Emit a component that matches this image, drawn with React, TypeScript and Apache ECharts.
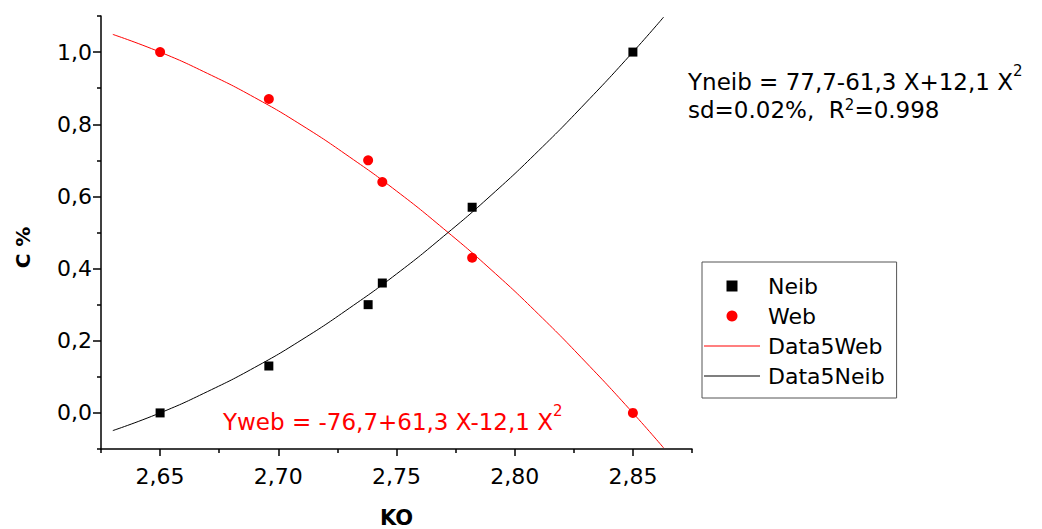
import React, { useEffect, useRef } from "react";
import * as echarts from "echarts";

const FONT = "DejaVu Sans";

// tick positions
const xTicksMajor = [2.65, 2.7, 2.75, 2.8, 2.85];
const xTicksMinor = [2.625, 2.675, 2.725, 2.775, 2.825, 2.875];
const yTicksMajor = [0, 0.2, 0.4, 0.6, 0.8, 1.0];
const yTicksMinor = [-0.1, 0.1, 0.3, 0.5, 0.7, 0.9, 1.1];

// measured points
const koPoints = [2.65, 2.696, 2.738, 2.744, 2.782, 2.85];
const neib = [0.0, 0.13, 0.3, 0.36, 0.57, 1.0];
const web = [1.0, 0.87, 0.7, 0.64, 0.43, 0.0];

// fitted curves
const fitKO = [2.63, 2.65, 2.67, 2.69, 2.71, 2.73, 2.75, 2.77, 2.79, 2.81, 2.83, 2.85, 2.863];
const fitWeb = [1.049, 1.0, 0.941, 0.874, 0.797, 0.71, 0.615, 0.51, 0.397, 0.274, 0.141, 0.0, -0.097];
const fitNeib = [-0.049, 0.0, 0.059, 0.126, 0.203, 0.29, 0.385, 0.49, 0.603, 0.726, 0.859, 1.0, 1.097];

const legendNames = ["Neib", "Web", "Data5Web", "Data5Neib"];

const richStyle = (color: string) => ({
  a: { fontFamily: FONT, fontSize: 23, lineHeight: 23, verticalAlign: "bottom", fill: color, color },
  b: { fontFamily: FONT, fontSize: 23, lineHeight: 28, verticalAlign: "bottom", fill: color, color },
  s: { fontFamily: FONT, fontSize: 15, lineHeight: 30, verticalAlign: "top", fill: color, color },
  t: { fontFamily: FONT, fontSize: 15, lineHeight: 15, verticalAlign: "top", padding: [3.5, 0, 0, 0], fill: color, color },
});

export default function App() {
  const ref = useRef<HTMLDivElement>(null);
  useEffect(() => {
    if (!ref.current) return;
    const chart = echarts.init(ref.current, undefined, { renderer: "svg" });
    const axisLineStyle = { color: "#000", width: 1.5 };
    const lineIcon = "path://M0,0H56V1H0Z";
    const option: any = {
      animation: false,
      backgroundColor: "#fff",
      grid: { left: 101, right: 350, top: 16, bottom: 80, outerBoundsMode: "none" },
      legend: {
        orient: "vertical",
        left: 702,
        top: 262,
        padding: [13, 12, 11, 2],
        itemGap: 8,
        itemWidth: 56,
        itemHeight: 11,
        symbolKeepAspect: true,
        borderColor: "#555",
        borderWidth: 1,
        textStyle: { fontFamily: FONT, fontSize: 22, color: "#000", lineHeight: 22, padding: [0, 0, 0, 3] },
        data: [
          { name: legendNames[0], icon: "path://M0,0H10V10H0Z", itemStyle: { color: "#000", opacity: 1 } },
          { name: legendNames[1], icon: "circle", itemStyle: { color: "#ff0000", opacity: 1 } },
          { name: legendNames[2], icon: lineIcon, itemStyle: { color: "#ff0000", opacity: 1 } },
          { name: legendNames[3], icon: lineIcon, itemStyle: { color: "#000", opacity: 1 } },
        ],
      },
      xAxis: [
        {
          type: "value",
          min: 2.625,
          max: 2.875,
          interval: 0.025,
          position: "bottom",
          axisLine: { onZero: false, lineStyle: axisLineStyle },
          axisTick: { customValues: xTicksMajor, length: 7, lineStyle: axisLineStyle },
          axisLabel: {
            customValues: xTicksMajor,
            formatter: (v: number) => v.toFixed(2).replace(".", ","),
            fontFamily: FONT,
            fontSize: 22,
            color: "#000",
            margin: 16,
          },
          splitLine: { show: false },
          name: "KO",
          nameLocation: "middle",
          nameGap: 59,
          nameTextStyle: { fontFamily: FONT, fontWeight: "bold", fontSize: 21, lineHeight: 20, color: "#000" },
        },
        {
          type: "value",
          min: 2.625,
          max: 2.875,
          interval: 0.025,
          position: "bottom",
          offset: 0,
          axisLine: { show: false, onZero: false },
          axisTick: { customValues: xTicksMinor, length: 4, lineStyle: axisLineStyle },
          axisLabel: { show: false },
          splitLine: { show: false },
        },
      ],
      yAxis: [
        {
          type: "value",
          min: -0.1,
          max: 1.1,
          interval: 0.1,
          position: "left",
          axisLine: { show: true, onZero: false, lineStyle: axisLineStyle },
          axisTick: { show: true, customValues: yTicksMajor, length: 8, lineStyle: axisLineStyle },
          axisLabel: {
            customValues: yTicksMajor,
            formatter: (v: number) => v.toFixed(1).replace(".", ","),
            fontFamily: FONT,
            fontSize: 22,
            color: "#000",
            margin: 9,
          },
          splitLine: { show: false },
          name: "C %",
          nameLocation: "middle",
          nameRotate: 90,
          nameGap: 68,
          nameTextStyle: { fontFamily: FONT, fontWeight: "bold", fontSize: 20, color: "#000", padding: [0, 30, 0, 0] },
        },
        {
          type: "value",
          min: -0.1,
          max: 1.1,
          interval: 0.1,
          position: "left",
          offset: 0,
          axisLine: { show: false, onZero: false },
          axisTick: { show: true, customValues: yTicksMinor, length: 4, lineStyle: axisLineStyle },
          axisLabel: { show: false },
          splitLine: { show: false },
        },
      ],
      series: [
        {
          name: "Neib",
          type: "scatter",
          symbol: "rect",
          symbolSize: 9,
          itemStyle: { color: "#000", opacity: 1 },
          data: koPoints.map((x, i) => [x, neib[i]]),
          z: 3,
        },
        {
          name: "Web",
          type: "scatter",
          symbol: "circle",
          symbolSize: 10,
          itemStyle: { color: "#ff0000", opacity: 1 },
          data: koPoints.map((x, i) => [x, web[i]]),
          z: 3,
        },
        {
          name: "Data5Web",
          type: "line",
          smooth: 0.5,
          symbol: "none",
          lineStyle: { color: "#ff0000", width: 1 },
          itemStyle: { color: "#ff0000" },
          data: fitKO.map((x, i) => [x, fitWeb[i]]),
          z: 2,
        },
        {
          name: "Data5Neib",
          type: "line",
          smooth: 0.5,
          symbol: "none",
          lineStyle: { color: "#000", width: 1 },
          itemStyle: { color: "#000" },
          data: fitKO.map((x, i) => [x, fitNeib[i]]),
          z: 2,
        },
      ],
      graphic: [
        {
          type: "text",
          x: 688,
          y: 63.5,
          style: {
            text: "{a|Yneib = 77,7-61,3 X+12,1 X}{s|2}\n{b|sd=0.02%,  R}{t|2}{b|=0.998}",
            rich: richStyle("#000"),
            fill: "#000",
          },
        },
        {
          type: "text",
          x: 223,
          y: 403.5,
          style: {
            text: "{a|Yweb = -76,7+61,3 X-12,1 X}{s|2}",
            rich: richStyle("#ff0000"),
            fill: "#ff0000",
          },
        },
      ],
    };
    chart.setOption(option);
    return () => chart.dispose();
  }, []);
  return (
    <div
      ref={ref}
      style={{ position: "absolute", left: 0, top: 0, width: 1042, height: 529 }}
    />
  );
}
